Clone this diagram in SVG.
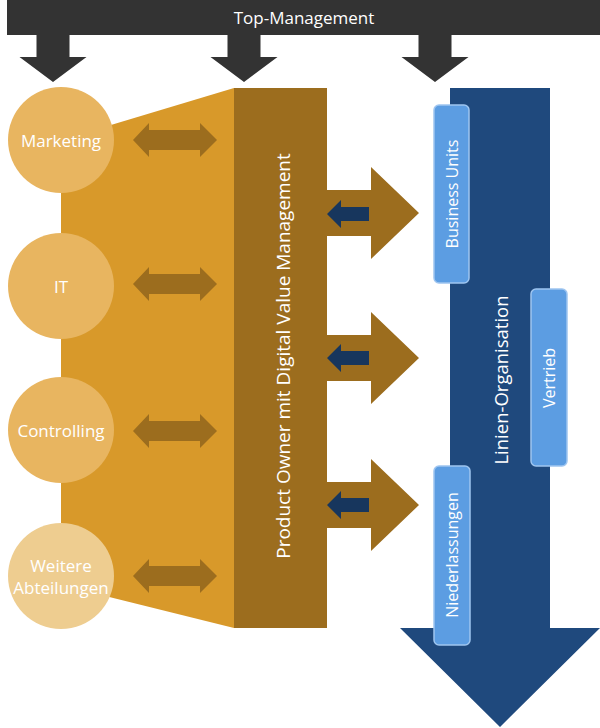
<svg xmlns="http://www.w3.org/2000/svg" width="600" height="728" viewBox="0 0 600 728">
<style>
text{font-family:"Open Sans","Noto Sans",sans-serif;fill:#fff;text-anchor:middle;dominant-baseline:central}
.dark{fill:#333333}
.circ{fill:#E8B560}
.dbl{fill:#9C6D1E}
.navy{fill:#17365D}
.box{fill:#5C9DE2;stroke:#9EC5F0;stroke-width:1.5}
</style>
<defs>
<path id="dn" d="M-16.5,35 h33 v22 h17 l-33.5,25 l-33.5,-25 h17 z"/>
<path id="dbl" d="M133,0 l16,-17 v7 h51 v-7 l17,17 l-17,17 v-7 h-51 v7 z"/>
<path id="rt" d="M327,-23 h44 v-23 l48,46 l-48,46 v-23 h-44 z"/>
<path id="lt" d="M327,0 l14,-14 v7 h28 v14 h-28 v7 z"/>
</defs>
<g id="top">
<rect class="dark" x="7" y="0" width="593" height="35"/>
<use href="#dn" class="dark" x="53"/>
<use href="#dn" class="dark" x="244"/>
<use href="#dn" class="dark" x="435"/>
<text x="304" y="17" font-size="17">Top-Management</text>
</g>
<g id="funnel"><polygon points="61,140 234,88 234,628 61,585" fill="#D8992A"/></g>
<g id="line-org">
<path d="M450,88 h100 v540 h50 l-100,99 l-100,-99 h50 z" fill="#1F497D"/>
<text transform="translate(500,380) rotate(-90)" font-size="18.5">Linien-Organisation</text>
</g>
<g id="connectors">
<use href="#dbl" class="dbl" y="140"/>
<use href="#dbl" class="dbl" y="284"/>
<use href="#dbl" class="dbl" y="431"/>
<use href="#dbl" class="dbl" y="576"/>
<use href="#rt" class="dbl" y="213"/>
<use href="#rt" class="dbl" y="358"/>
<use href="#rt" class="dbl" y="505"/>
<use href="#lt" class="navy" y="214"/>
<use href="#lt" class="navy" y="358"/>
<use href="#lt" class="navy" y="505"/>
</g>
<g id="po">
<rect x="234" y="88" width="93" height="540" fill="#9C6D1E"/>
<text transform="translate(283,356) rotate(-90)" font-size="19">Product Owner mit Digital Value Management</text>
</g>
<g id="marketing"><circle class="circ" cx="61" cy="140" r="53"/><text x="61" y="140" font-size="17">Marketing</text></g>
<g id="it"><circle class="circ" cx="61" cy="286" r="53"/><text x="61" y="286" font-size="17">IT</text></g>
<g id="controlling"><circle class="circ" cx="61" cy="430" r="53"/><text x="61" y="430" font-size="17">Controlling</text></g>
<g id="weitere"><circle cx="61" cy="576" r="53" fill="#EECD90"/><text x="61" y="565" font-size="17">Weitere</text><text x="61" y="587" font-size="17">Abteilungen</text></g>
<g id="bu"><rect class="box" x="434" y="105" width="35" height="178" rx="5"/><text transform="translate(452,194) rotate(-90)" font-size="16">Business Units</text></g>
<g id="vertrieb"><rect class="box" x="531" y="289" width="36" height="177" rx="5"/><text transform="translate(549,378) rotate(-90)" font-size="16">Vertrieb</text></g>
<g id="nl"><rect class="box" x="434" y="466" width="36" height="179" rx="5"/><text transform="translate(452,555) rotate(-90)" font-size="16">Niederlassungen</text></g>
</svg>
